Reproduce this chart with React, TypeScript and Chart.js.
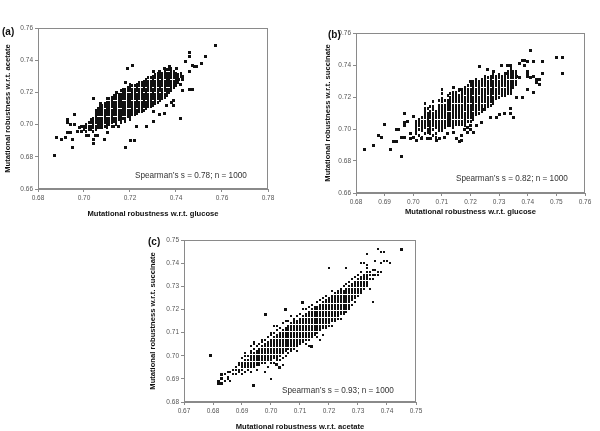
import React, { useEffect, useRef } from "react";
import { Chart, registerables } from "chart.js";
Chart.register(...registerables);

const FONT = "'Liberation Sans', Arial, sans-serif";

// ---------- Panel (a): glucose (x) vs acetate (y), values in thousandths ----------
const aXTicks = [0.68, 0.7, 0.72, 0.74, 0.76, 0.78];
const aYTicks = [0.66, 0.68, 0.7, 0.72, 0.74, 0.76];
// each column: [x, y1, y2, ...]
const aCore: number[][] = [
  [700, 697, 699], [701, 696, 698, 700], [702, 697, 699, 701], [703, 697, 699, 701, 703],
  [704, 696, 698, 700, 702, 704], [705, 697, 699, 701, 703, 705, 707, 709], [706, 698, 700, 702, 704, 706, 708, 710],
  [707, 698, 700, 702, 704, 706, 708, 710, 712], [708, 698, 700, 702, 704, 706, 708, 710, 712],
  [709, 699, 701, 703, 705, 707, 709, 711, 713], [710, 698, 700, 702, 704, 706, 708, 710, 712, 714, 716],
  [711, 700, 702, 704, 706, 708, 710, 712, 714, 716], [712, 699, 701, 703, 705, 707, 709, 711, 713, 715, 717],
  [713, 702, 704, 706, 708, 710, 712, 714, 716, 718], [714, 700, 702, 704, 706, 708, 710, 712, 714, 716, 718],
  [715, 703, 705, 707, 709, 711, 713, 715, 717, 719], [716, 701, 703, 705, 707, 709, 711, 713, 715, 717, 719, 721],
  [717, 704, 706, 708, 710, 712, 714, 716, 718, 720, 722], [718, 702, 704, 706, 708, 710, 712, 714, 716, 718, 720, 722],
  [719, 705, 707, 709, 711, 713, 715, 717, 719, 721, 723], [720, 703, 705, 707, 709, 711, 713, 715, 717, 719, 721, 723, 725],
  [721, 706, 708, 710, 712, 714, 716, 718, 720, 722, 724], [722, 706, 708, 710, 712, 714, 716, 718, 720, 722, 724],
  [723, 707, 709, 711, 713, 715, 717, 719, 721, 723, 725], [724, 708, 710, 712, 714, 716, 718, 720, 722, 724, 726],
  [725, 708, 710, 712, 714, 716, 718, 720, 722, 724, 726], [726, 709, 711, 713, 715, 717, 719, 721, 723, 725, 727],
  [727, 710, 712, 714, 716, 718, 720, 722, 724, 726, 728], [728, 711, 713, 715, 717, 719, 721, 723, 725, 727, 729],
  [729, 711, 713, 715, 717, 719, 721, 723, 725, 727, 729], [730, 712, 714, 716, 718, 720, 722, 724, 726, 728, 730],
  [731, 713, 715, 717, 719, 721, 723, 725, 727, 729, 731], [732, 714, 716, 718, 720, 722, 724, 726, 728, 730, 732],
  [733, 715, 717, 719, 721, 723, 725, 727, 729, 731], [734, 716, 718, 720, 722, 724, 726, 728, 730, 732],
  [735, 717, 719, 721, 723, 725, 727, 729, 731, 733], [736, 718, 720, 722, 724, 726, 728, 730, 732, 734],
  [737, 720, 722, 724, 726, 728, 730, 732, 734], [738, 721, 723, 725, 727, 729, 731, 733, 735],
  [739, 723, 725, 727, 729, 731, 733], [740, 724, 726, 728, 730, 732], [741, 726, 729, 731], [742, 730, 732],
];
const aOut: number[][] = [
  [687, 681], [688, 692], [690, 691], [692, 692], [693, 695], [693, 701], [693, 703], [694, 700], [694, 695],
  [695, 691], [695, 686], [696, 706], [696, 700], [697, 696], [698, 698], [699, 699], [699, 696], [701, 693],
  [702, 693], [704, 688], [704, 691], [705, 693], [706, 693], [709, 691], [710, 695], [704, 716], [707, 713],
  [713, 699], [715, 699], [714, 720], [718, 726], [718, 686], [719, 735], [720, 690], [721, 737], [722, 690],
  [723, 699], [727, 699], [730, 702], [730, 708], [733, 706], [735, 707], [730, 733], [733, 733], [735, 735],
  [737, 736], [739, 715], [739, 712], [742, 704], [742, 725], [743, 728], [743, 721], [743, 730], [744, 739],
  [746, 722], [747, 722], [746, 733], [746, 742], [746, 745], [747, 737], [748, 736], [749, 736], [751, 738],
  [753, 742], [757, 749], [738, 714], [736, 712], [741, 728], [740, 735],
];

// ---------- Panel (b): glucose (x) vs succinate (y) ----------
const bXTicks = [0.68, 0.69, 0.7, 0.71, 0.72, 0.73, 0.74, 0.75, 0.76];
const bYTicks = [0.66, 0.68, 0.7, 0.72, 0.74, 0.76];
const bCore: number[][] = [
  [701, 697, 699, 701, 703, 705], [702, 696, 700, 702, 704, 706], [703, 695, 699, 701, 703, 705, 707],
  [704, 697, 701, 703, 705, 707, 709, 711, 713, 716], [705, 698, 700, 702, 704, 706, 708, 710, 713],
  [706, 697, 699, 701, 703, 705, 707, 709, 711, 714], [707, 696, 700, 702, 704, 706, 708, 710, 712, 714, 717],
  [708, 695, 697, 701, 703, 705, 707, 709, 711], [709, 699, 701, 703, 705, 707, 709, 711, 713, 715, 718],
  [710, 699, 701, 703, 705, 707, 709, 711, 713, 715, 717, 719, 722, 725],
  [711, 701, 703, 705, 707, 709, 711, 713, 715, 718], [712, 702, 704, 706, 708, 710, 712, 714, 716, 718, 721],
  [713, 702, 704, 706, 708, 710, 712, 714, 716, 718, 720, 722],
  [714, 701, 703, 705, 707, 709, 711, 713, 715, 717, 719, 721, 723],
  [715, 703, 705, 707, 709, 711, 713, 715, 717, 719, 721, 723],
  [716, 703, 705, 707, 709, 711, 713, 715, 717, 719, 721, 724],
  [717, 703, 705, 707, 709, 711, 713, 715, 717, 719, 721, 723, 725],
  [718, 702, 704, 706, 708, 710, 712, 714, 716, 718, 720, 722, 724, 726],
  [719, 705, 707, 709, 711, 713, 715, 717, 719, 721, 723, 725, 727],
  [720, 705, 707, 709, 711, 713, 715, 717, 719, 721, 723, 725, 727, 729],
  [721, 706, 708, 710, 712, 714, 716, 718, 720, 722, 724, 726, 728, 730],
  [722, 709, 711, 713, 715, 717, 719, 721, 723, 725, 727, 729, 731],
  [723, 710, 712, 714, 716, 718, 720, 722, 724, 726, 728, 730],
  [724, 711, 713, 715, 717, 719, 721, 723, 725, 727, 729, 731],
  [725, 713, 715, 717, 719, 721, 723, 725, 727, 729, 731, 733],
  [726, 714, 716, 718, 720, 722, 724, 726, 728, 730, 732],
  [727, 715, 717, 719, 721, 723, 725, 727, 729, 731, 733],
  [728, 716, 718, 720, 722, 724, 726, 728, 730, 732, 734],
  [729, 719, 721, 723, 725, 727, 729, 731, 733], [730, 720, 722, 724, 726, 728, 730, 732, 734],
  [731, 721, 723, 725, 727, 729, 731, 733], [732, 721, 723, 725, 727, 729, 731, 733, 735],
  [733, 722, 724, 726, 728, 730, 732, 734, 736], [734, 722, 724, 726, 728, 730, 732, 734, 736, 738],
  [735, 726, 728, 730, 732, 734, 736], [736, 728, 730, 732, 734, 736],
];
const bOut: number[][] = [
  [683, 687], [686, 690], [688, 696], [689, 695], [690, 703], [692, 687], [693, 692], [694, 692], [694, 700],
  [695, 700], [696, 683], [696, 695], [697, 704], [697, 702], [697, 710], [697, 695], [698, 705], [699, 694],
  [700, 708], [699, 697], [700, 695], [701, 693], [703, 694], [705, 694], [706, 694], [708, 693], [709, 694],
  [711, 695], [712, 697], [714, 698], [715, 694], [716, 692], [717, 693], [717, 696], [719, 698], [720, 700],
  [720, 702], [721, 698], [716, 725], [714, 726], [720, 730], [722, 702], [724, 704], [723, 739], [726, 737],
  [727, 707], [729, 707], [728, 736], [733, 740], [734, 710], [734, 713], [733, 735], [731, 740], [734, 740],
  [735, 707], [736, 720], [738, 720], [737, 741], [738, 743], [739, 743], [740, 742], [741, 749], [740, 736],
  [740, 734], [740, 733], [740, 725], [741, 732], [742, 742], [742, 733], [742, 723], [743, 731], [743, 729],
  [744, 731], [744, 728], [745, 735], [745, 742], [739, 740], [750, 745], [752, 745], [752, 735], [736, 733],
  [737, 732], [732, 710], [730, 709], [725, 712], [718, 700], [719, 701],
];

// ---------- Panel (c): acetate (x) vs succinate (y) ----------
const cXTicks = [0.67, 0.68, 0.69, 0.7, 0.71, 0.72, 0.73, 0.74, 0.75];
const cYTicks = [0.68, 0.69, 0.7, 0.71, 0.72, 0.73, 0.74, 0.75];
const cCore: number[][] = [
  [684, 689, 692], [685, 690, 691, 693], [686, 689, 693], [687, 692, 694], [688, 692, 694, 695],
  [689, 693, 694, 696, 697], [690, 692, 694, 695, 696, 697, 699], [691, 693, 695, 696, 697, 698, 700, 701],
  [692, 694, 695, 696, 697, 698, 700], [693, 693, 695, 696, 697, 698, 699, 700, 701, 702, 704],
  [694, 695, 696, 697, 698, 699, 700, 701, 703, 705, 706], [695, 694, 696, 697, 698, 699, 700, 701, 702, 704],
  [696, 696, 697, 698, 699, 700, 701, 702, 703, 705], [697, 697, 698, 699, 700, 701, 702, 703, 704, 706, 707],
  [698, 693, 697, 698, 699, 700, 701, 702, 703, 704, 705, 707],
  [699, 695, 698, 699, 700, 701, 702, 703, 704, 705, 706, 708],
  [700, 690, 697, 698, 699, 700, 701, 702, 703, 704, 705, 706, 707, 709, 710],
  [701, 697, 699, 700, 701, 702, 703, 704, 705, 706, 707, 708, 710, 713],
  [702, 698, 699, 700, 701, 702, 703, 704, 705, 706, 707, 708, 709, 711, 713],
  [703, 698, 700, 701, 702, 703, 704, 705, 706, 707, 708, 709, 710, 712],
  [704, 696, 699, 701, 702, 703, 704, 705, 706, 707, 708, 709, 710, 711, 714],
  [705, 700, 702, 703, 704, 705, 706, 707, 708, 709, 710, 711, 712, 715],
  [706, 701, 703, 704, 705, 706, 707, 708, 709, 710, 711, 712, 713, 715],
  [707, 702, 703, 704, 705, 706, 707, 708, 709, 710, 711, 712, 713, 714, 717],
  [708, 703, 704, 705, 706, 707, 708, 709, 710, 711, 712, 713, 714, 715, 716],
  [709, 702, 704, 705, 706, 707, 708, 709, 710, 711, 712, 713, 714, 715, 717],
  [710, 705, 706, 707, 708, 709, 710, 711, 712, 713, 714, 715, 716, 718],
  [711, 706, 707, 708, 709, 710, 711, 712, 713, 714, 715, 716, 717, 720],
  [712, 705, 707, 708, 709, 710, 711, 712, 713, 714, 715, 716, 717, 718, 720],
  [713, 704, 707, 708, 709, 710, 711, 712, 713, 714, 715, 716, 717, 718, 719, 721],
  [714, 708, 709, 710, 711, 712, 713, 714, 715, 716, 717, 718, 719, 720, 722],
  [715, 709, 710, 711, 712, 713, 714, 715, 716, 717, 718, 719, 720, 721],
  [716, 708, 710, 711, 712, 713, 714, 715, 716, 717, 718, 719, 720, 721, 723],
  [717, 707, 711, 712, 713, 714, 715, 716, 717, 718, 719, 720, 721, 722, 724],
  [718, 709, 712, 713, 714, 715, 716, 717, 718, 719, 720, 721, 722, 723, 725],
  [719, 712, 713, 714, 715, 716, 717, 718, 719, 720, 721, 722, 723, 724, 726],
  [720, 713, 714, 715, 716, 717, 718, 719, 720, 721, 722, 723, 724, 725, 738],
  [721, 713, 715, 716, 717, 718, 719, 720, 721, 722, 723, 724, 725, 726, 728],
  [722, 715, 716, 717, 718, 719, 720, 721, 722, 723, 724, 725, 726, 727],
  [723, 716, 717, 718, 719, 720, 721, 722, 723, 724, 725, 726, 727, 728],
  [724, 716, 718, 719, 720, 721, 722, 723, 724, 725, 726, 727, 728, 729],
  [725, 718, 719, 720, 721, 722, 723, 724, 725, 726, 727, 728, 730],
  [726, 719, 720, 721, 722, 723, 724, 725, 726, 727, 728, 729, 731, 738],
  [727, 720, 721, 722, 723, 724, 725, 726, 727, 728, 729, 730, 732],
  [728, 722, 724, 725, 726, 727, 728, 729, 730, 731, 733],
  [729, 723, 725, 726, 727, 728, 729, 730, 731, 732, 734],
  [730, 726, 727, 728, 729, 730, 731, 732, 733, 735],
  [731, 727, 728, 729, 730, 731, 732, 733, 734, 736, 740],
  [732, 729, 730, 731, 732, 733, 734, 735, 740],
  [733, 730, 731, 732, 733, 734, 735, 736, 738, 739, 744],
  [734, 729, 733, 735, 736], [735, 723, 733, 735, 737], [736, 735, 737, 741], [737, 735, 736, 746],
  [738, 736, 740, 745], [739, 741, 745], [740, 741], [741, 740],
];
const cOut: number[][] = [
  [679, 700], [682, 688], [682, 689], [683, 688], [683, 690], [683, 692], [698, 718], [705, 720], [711, 723],
  [714, 704], [703, 695], [702, 696], [694, 687], [745, 746],
];

const toPoints = (cols: number[][]) =>
  cols.flatMap((c) => c.slice(1).map((y) => ({ x: c[0] / 1000, y: y / 1000 })));
const toPairs = (pairs: number[][]) => pairs.map((p) => ({ x: p[0] / 1000, y: p[1] / 1000 }));

function marker(w: number, h: number) {
  const c = document.createElement("canvas");
  c.width = w;
  c.height = h;
  const g = c.getContext("2d")!;
  g.fillStyle = "#111";
  g.fillRect(0, 0, w, h);
  return c;
}

const boxPlugin = {
  id: "box",
  afterDraw(chart: any) {
    const { ctx, chartArea: a } = chart;
    ctx.save();
    ctx.strokeStyle = "#8a8a8a";
    ctx.lineWidth = 1;
    ctx.strokeRect(Math.round(a.left) + 0.5, Math.round(a.top) + 0.5, Math.round(a.right - a.left) - 1, Math.round(a.bottom - a.top) - 1);
    ctx.restore();
  },
};

type PanelCfg = {
  left: number; top: number; w: number; h: number;
  padTop: number; padRight: number; yWidth: number; xHeight: number;
  xTicks: number[]; yTicks: number[]; xTitle: string; yTitle: string;
  core: number[][]; out: number[][]; coreW: number; coreH: number; outS: number;
  xTitlePadBottom: number;
};

function Panel({ cfg }: { cfg: PanelCfg }) {
  const ref = useRef<HTMLCanvasElement>(null);
  useEffect(() => {
    const xt = cfg.xTicks, yt = cfg.yTicks;
    const chart = new Chart(ref.current!, {
      type: "scatter",
      data: {
        datasets: [
          { data: toPoints(cfg.core), pointStyle: marker(cfg.coreW, cfg.coreH) as any, pointRadius: 2, backgroundColor: "#111", borderWidth: 0 },
          { data: toPairs(cfg.out), pointStyle: marker(cfg.outS, cfg.outS) as any, pointRadius: 2, backgroundColor: "#111", borderWidth: 0 },
        ],
      },
      options: {
        responsive: false,
        animation: false,
        events: [],
        layout: { padding: { left: 0, top: cfg.padTop, right: cfg.padRight, bottom: 0 } },
        plugins: { legend: { display: false }, tooltip: { enabled: false } },
        scales: {
          x: {
            type: "linear",
            min: xt[0],
            max: xt[xt.length - 1],
            afterBuildTicks: (s: any) => { s.ticks = xt.map((v) => ({ value: v })); },
            afterFit: (s: any) => { s.height = cfg.xHeight; },
            grid: { display: true, drawOnChartArea: false, drawTicks: true, tickLength: 3, color: "#8a8a8a" },
            border: { display: true, color: "#8a8a8a" },
            ticks: { font: { size: 6.5, family: FONT }, color: "#555", padding: 2, maxRotation: 0, autoSkip: false, callback: (v: any) => Number(v).toFixed(2) },
            title: { display: true, text: cfg.xTitle, font: { size: 7.6, weight: "bold", family: FONT }, color: "#111", padding: { top: 0, bottom: cfg.xTitlePadBottom } },
          },
          y: {
            type: "linear",
            min: yt[0],
            max: yt[yt.length - 1],
            afterBuildTicks: (s: any) => { s.ticks = yt.map((v) => ({ value: v })); },
            afterFit: (s: any) => { s.width = cfg.yWidth; },
            grid: { display: true, drawOnChartArea: false, drawTicks: true, tickLength: 3, color: "#8a8a8a" },
            border: { display: true, color: "#8a8a8a" },
            ticks: { font: { size: 6.5, family: FONT }, color: "#555", padding: 2, autoSkip: false, callback: (v: any) => Number(v).toFixed(2) },
            title: { display: true, text: cfg.yTitle, font: { size: 7.6, weight: "bold", family: FONT }, color: "#111", padding: { top: 3, bottom: 0 } },
          },
        },
      },
      plugins: [boxPlugin],
    } as any);
    return () => chart.destroy();
  }, []);
  return (
    <canvas
      ref={ref}
      width={cfg.w}
      height={cfg.h}
      style={{ position: "absolute", left: cfg.left, top: cfg.top, width: cfg.w, height: cfg.h }}
    />
  );
}

const panels: PanelCfg[] = [
  {
    left: 0, top: 18, w: 278, h: 207, padTop: 10, padRight: 10, yWidth: 38, xHeight: 36,
    xTicks: aXTicks, yTicks: aYTicks, xTitle: "Mutational robustness w.r.t. glucose", yTitle: "Mutational robustness w.r.t. acetate",
    core: aCore, out: aOut, coreW: 2, coreH: 3, outS: 3, xTitlePadBottom: 7,
  },
  {
    left: 320, top: 23, w: 275, h: 198, padTop: 10, padRight: 10, yWidth: 36, xHeight: 28,
    xTicks: bXTicks, yTicks: bYTicks, xTitle: "Mutational robustness w.r.t. glucose", yTitle: "Mutational robustness w.r.t. succinate",
    core: bCore, out: bOut, coreW: 2, coreH: 3, outS: 3, xTitlePadBottom: 5,
  },
  {
    left: 145, top: 230, w: 281, h: 201, padTop: 10, padRight: 10, yWidth: 39, xHeight: 29,
    xTicks: cXTicks, yTicks: cYTicks, xTitle: "Mutational robustness w.r.t. acetate", yTitle: "Mutational robustness w.r.t. succinate",
    core: cCore, out: cOut, coreW: 2, coreH: 2, outS: 3, xTitlePadBottom: 0,
  },
];

const labels = [
  { text: "(a)", left: 2, top: 27, bold: true, size: 10 },
  { text: "(b)", left: 328, top: 30, bold: true, size: 10 },
  { text: "(c)", left: 148, top: 237, bold: true, size: 10 },
  { text: "Spearman’s s = 0.78; n = 1000", left: 135, top: 171, bold: false, size: 8.2 },
  { text: "Spearman’s s = 0.82; n = 1000", left: 456, top: 174, bold: false, size: 8.2 },
  { text: "Spearman’s s = 0.93; n = 1000", left: 282, top: 386, bold: false, size: 8.2 },
];

export default function App() {
  return (
    <div style={{ position: "fixed", left: 0, top: 0, width: 600, height: 431, background: "#fff", overflow: "hidden" }}>
      {panels.map((p, i) => (
        <Panel key={i} cfg={p} />
      ))}
      {labels.map((l, i) => (
        <div
          key={"l" + i}
          style={{
            position: "absolute", left: l.left, top: l.top, fontFamily: FONT, fontSize: l.size,
            fontWeight: l.bold ? "bold" : "normal", color: l.bold ? "#111" : "#333", lineHeight: "10px", whiteSpace: "nowrap",
          }}
        >
          {l.text}
        </div>
      ))}
    </div>
  );
}
